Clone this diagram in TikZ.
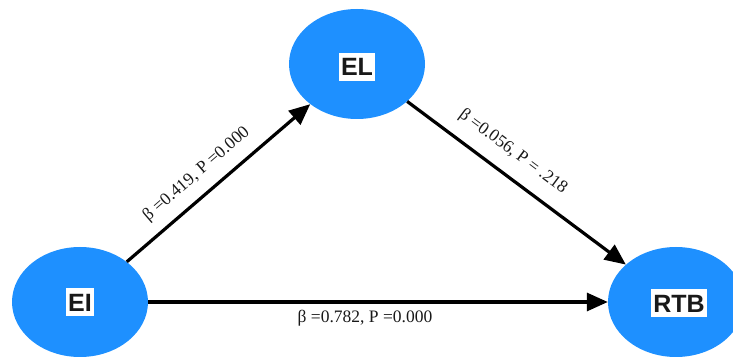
\documentclass[tikz,border=0pt]{standalone}
\usepackage{fontspec}
\setmainfont{Liberation Serif}
\newfontfamily\nodefont{Liberation Sans}
\usetikzlibrary{shapes.geometric,arrows.meta,calc}
\definecolor{nodeblue}{RGB}{30,144,255}
\definecolor{txtdark}{RGB}{25,25,25}
\tikzset{
  latent/.style={ellipse, fill=nodeblue, draw=none, minimum width=136pt, minimum height=110pt, inner sep=0pt},
  namebox/.style={fill=white, text=txtdark, font=\nodefont\bfseries\fontsize{25}{25}\selectfont, inner xsep=2pt, inner ysep=5pt, text height=18pt, text depth=0pt},
  arr/.style={line width=3.2pt, -{Triangle[length=21pt,width=18pt]}, black},
  coef/.style={font=\fontsize{17.5}{20}\selectfont, inner sep=0pt, text=txtdark}
}
\begin{document}
\begin{tikzpicture}[x=1pt,y=1pt]
\useasboundingbox (0,0) rectangle (733,356);
\node[latent] (EI) at (80,54) {};
\node[latent] (EL) at (357,292) {};
\node[latent] (RTB) at (676,54) {};
\node[namebox] (EIt) at (EI) {EI};
\node[namebox] (ELt) at ([yshift=-3pt]EL) {EL};
\node[namebox] (RTBt) at ([xshift=3pt,yshift=-1pt]RTB) {RTB};
\draw[arr] (EI) -- (EL);
\draw[arr] (EL) -- (RTB);
\draw[arr] (EI) -- (RTB);
\node[coef, rotate=40.8] (l1) at ($(EI)!0.47!(EL)!21pt!90:(EL)$) {β =0.419, P =0.000};
\node[coef, rotate=-36.7] (l2) at ($(EL)!0.446!(RTB)!23pt!90:(RTB)$) {β =0.056, P = .218};
\node[coef, anchor=base] (l3) at (365,34) {β =0.782, P =0.000};
\end{tikzpicture}
\end{document}
